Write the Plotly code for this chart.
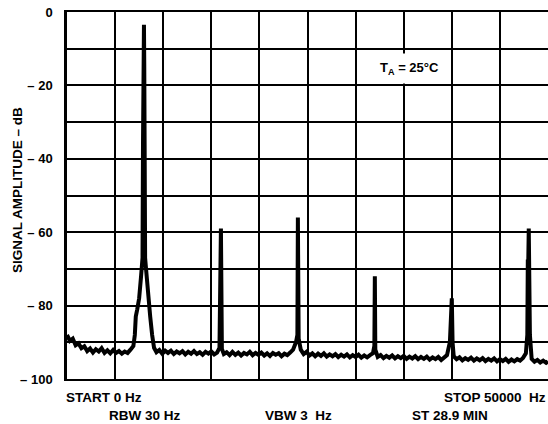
import plotly.graph_objects as go

# Spectrum trace (frequency in Hz, amplitude in dB)
freq_hz = [
    0, 300, 600, 900, 1200, 1500, 1800, 2100, 2400, 2700, 3000, 3300, 3600, 3900,
    4200, 4500, 4800, 5100, 5400, 5700, 6000, 6300, 6600, 6900,
    7050, 7150, 7300, 7500, 7700, 7850, 7900, 7950, 8000, 8030, 8070, 8120,
    8250, 8450, 8650, 8850, 9050,
    9300, 9600, 9900, 10200, 10500, 10800, 11100, 11400, 11700, 12000, 12300,
    12600, 12900, 13200, 13500, 13800, 14100, 14400, 14700, 15000, 15300, 15600,
    15850, 16000, 16100,
    16300, 16600, 16900, 17200, 17500, 17800, 18100, 18400, 18700, 19000, 19300,
    19600, 19900, 20200, 20500, 20800, 21100, 21400, 21700, 22000, 22300, 22600,
    22900, 23200, 23500, 23800, 23950, 24000, 24080,
    24300, 24600, 24900, 25200, 25500, 25800, 26100, 26400, 26700, 27000, 27300,
    27600, 27900, 28200, 28500, 28800, 29100, 29400, 29700, 30000, 30300, 30600,
    30900, 31200, 31500, 31800, 31950, 32000, 32050,
    32300, 32600, 32900, 33200, 33500, 33800, 34100, 34400, 34700, 35000, 35300,
    35600, 35900, 36200, 36500, 36800, 37100, 37400, 37700, 38000, 38300, 38600,
    38900, 39200, 39500, 39800, 39900, 40000, 40080,
    40200, 40500, 40800, 41100, 41400, 41700, 42000, 42300, 42600, 42900, 43200,
    43500, 43800, 44100, 44400, 44700, 45000, 45300, 45600, 45900, 46200, 46500,
    46800, 47100, 47400, 47700, 47850, 47900, 47950, 48000, 48050, 48120,
    48300, 48600, 48900, 49200, 49500, 49800, 50000,
]
amp_db = [
    -88.0, -89.6, -89.0, -90.8, -90.3, -91.6, -91.1, -92.4, -91.7, -92.8, -91.9, -92.5, -91.6, -92.9,
    -92.2, -93.0, -92.1, -92.9, -92.4, -93.1, -92.5, -92.9, -92.0, -91.0,
    -88.0, -83.0, -81.0, -78.0, -72.0, -67.0, -36.0, -14.0, -3.5, -14.0, -36.0, -67.0,
    -71.0, -78.0, -83.0, -88.0, -91.5,
    -92.7, -92.1, -93.1, -92.3, -92.9, -92.3, -93.2, -92.5, -93.0, -92.4, -93.3,
    -92.6, -93.1, -92.4, -93.2, -92.7, -93.4, -92.6, -93.1, -92.5, -93.3, -92.8,
    -91.5, -59.0, -91.8,
    -93.2, -92.7, -93.5, -92.6, -93.4, -92.8, -93.6, -92.9, -93.3, -92.6, -93.5,
    -92.9, -93.4, -92.8, -93.6, -93.0, -93.7, -92.9, -93.4, -93.0, -93.8, -93.1,
    -93.5, -92.8, -92.0, -90.0, -88.0, -56.0, -89.0,
    -92.0, -93.2, -92.6, -93.6, -93.0, -93.8, -93.1, -93.7, -93.0, -93.9, -93.3,
    -93.8, -93.2, -94.0, -93.4, -93.9, -93.3, -94.1, -93.5, -94.0, -93.4, -94.2,
    -93.6, -94.1, -93.5, -93.0, -91.0, -72.0, -92.0,
    -94.0, -93.5, -94.3, -93.7, -94.2, -93.6, -94.4, -93.8, -94.3, -93.7, -94.5,
    -93.9, -94.4, -93.8, -94.6, -94.0, -94.5, -93.9, -94.7, -94.1, -94.6, -94.0,
    -94.8, -94.2, -93.5, -90.0, -86.0, -78.0, -90.0,
    -93.8, -94.6, -94.1, -94.9, -94.3, -94.8, -94.2, -95.0, -94.4, -94.9, -94.3,
    -95.1, -94.5, -95.0, -94.4, -95.2, -94.6, -95.1, -94.5, -95.3, -94.7, -95.2,
    -94.6, -95.0, -94.3, -93.0, -88.0, -68.0, -68.0, -59.0, -70.0, -88.0,
    -94.5, -95.3, -94.8, -95.5, -95.0, -95.6, -95.2,
]

y_tick_vals = [-100, -80, -60, -40, -20, 0]
y_tick_text = ["\u2013 100", "\u2013 80", "\u2013 60", "\u2013 40", "\u2013 20", "0"]

FONT = "Liberation Sans"
BLACK = "#000000"

fig = go.Figure()
fig.add_trace(go.Scatter(
    x=freq_hz, y=amp_db, mode="lines",
    line=dict(color=BLACK, width=4),
    hoverinfo="skip", showlegend=False,
))

fig.update_layout(
    width=548, height=424,
    margin=dict(l=67, r=0, t=12, b=45),
    paper_bgcolor="white", plot_bgcolor="white",
    font=dict(family=FONT, color=BLACK, size=12),
    showlegend=False,
)
fig.update_xaxes(
    range=[0, 50000], dtick=5000, tick0=0,
    showgrid=True, gridcolor=BLACK, gridwidth=1.5,
    showticklabels=False, ticks="",
    showline=True, linecolor=BLACK, linewidth=2, mirror=True,
    zeroline=False,
)
fig.update_yaxes(
    range=[-100, 0], tickmode="array", tickvals=y_tick_vals, ticktext=y_tick_text,
    showgrid=True, gridcolor=BLACK, gridwidth=1.5,
    minor=dict(tick0=0, dtick=10, showgrid=True, gridcolor=BLACK, gridwidth=1.5, ticks=""),
    ticks="", ticklabelstandoff=9,
    tickfont=dict(family=FONT, size=13, color=BLACK, weight="bold"),
    showline=True, linecolor=BLACK, linewidth=2.5,
    zeroline=False,
)

def px_x(px):
    return (px - 67) / 481.0

def px_y(py):
    return (379 - py) / 367.0

texts = [
    ("START 0 Hz", 64, 397, "left"),
    ("RBW 30 Hz", 107, 415, "left"),
    ("VBW 3  Hz", 263, 415, "left"),
    ("ST 28.9 MIN", 410, 415, "left"),
    ("STOP 50000  Hz", 548, 397, "right"),
]
for t, x, y, anc in texts:
    fig.add_annotation(
        text=t.replace("  ", "\u00a0\u00a0"), xref="paper", yref="paper",
        x=px_x(x), y=px_y(y), xanchor=anc, yanchor="middle", showarrow=False,
        font=dict(family=FONT, size=13.5, color=BLACK, weight="bold"),
    )

fig.add_annotation(
    text="SIGNAL AMPLITUDE \u2013 dB", xref="paper", yref="paper",
    x=px_x(18), y=px_y(190), xanchor="center", yanchor="middle",
    textangle=-90, showarrow=False,
    font=dict(family=FONT, size=13.5, color=BLACK, weight="bold"),
)

fig.add_annotation(
    text="T<sub>A</sub> = 25\u00b0C", xref="paper", yref="paper",
    x=px_x(409), y=px_y(68), xanchor="center", yanchor="middle",
    showarrow=False, bgcolor="white", borderpad=6,
    font=dict(family=FONT, size=13, color=BLACK, weight="bold"),
)

fig.write_html("out.html")
